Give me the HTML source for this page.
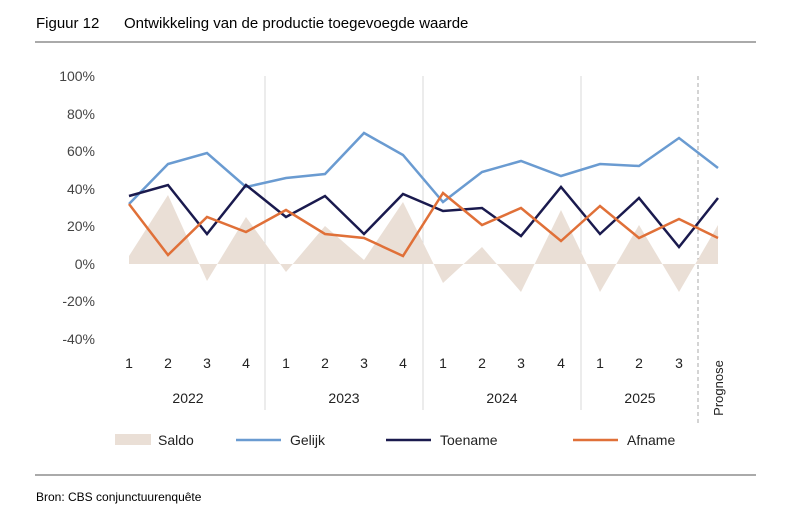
<!DOCTYPE html>
<html><head><meta charset="utf-8"><style>
body{margin:0;background:#fff;width:800px;height:528px;overflow:hidden}
svg{display:block;font-family:"Liberation Sans",sans-serif}
</style></head><body>
<svg width="800" height="528" viewBox="0 0 800 528" xmlns="http://www.w3.org/2000/svg">
<text x="36" y="28" font-size="15" fill="#000">Figuur 12</text>
<text x="124" y="28" font-size="15" fill="#000">Ontwikkeling van de productie toegevoegde waarde</text>
<line x1="35" y1="42" x2="756" y2="42" stroke="#555" stroke-width="1"/>
<g font-size="14" fill="#444" text-anchor="end">
<text x="95" y="81">100%</text><text x="95" y="119">80%</text><text x="95" y="156">60%</text>
<text x="95" y="194">40%</text><text x="95" y="231">20%</text><text x="95" y="269">0%</text>
<text x="95" y="306">-20%</text><text x="95" y="344">-40%</text>
</g>
<g stroke="#d9d9d9" stroke-width="1">
<line x1="265" y1="76" x2="265" y2="410"/><line x1="423" y1="76" x2="423" y2="410"/><line x1="581" y1="76" x2="581" y2="410"/>
</g>
<line x1="698" y1="76" x2="698" y2="425" stroke="#aaa" stroke-dasharray="4,3"/>
<polygon fill="#eadfd6" points="129,264 129,256 168,195 207,281 246,217 286,272 325,226 364,260 403,202 443,283 482,247 521,292 561,210 600,292 639,225 679,292 718,225 718,264"/>
<polyline fill="none" stroke="#6a9bd1" stroke-width="2.5" points="129,204 168,164 207,153 246,187 286,178 325,174 364,133 403,155 443,202 482,172 521,161 561,176 600,164 639,166 679,138 718,168"/>
<polyline fill="none" stroke="#1a1a4e" stroke-width="2.5" points="129,196 168,185 207,234 246,185 286,217 325,196 364,234 403,194 443,211 482,208 521,236 561,187 600,234 639,198 679,247 718,198"/>
<polyline fill="none" stroke="#e07038" stroke-width="2.5" points="129,204 168,255 207,217 246,232 286,210 325,234 364,238 403,256 443,193 482,225 521,208 561,241 600,206 639,238 679,219 718,238"/>
<g font-size="14" fill="#222" text-anchor="middle">
<text x="129" y="368">1</text><text x="168" y="368">2</text><text x="207" y="368">3</text><text x="246" y="368">4</text>
<text x="286" y="368">1</text><text x="325" y="368">2</text><text x="364" y="368">3</text><text x="403" y="368">4</text>
<text x="443" y="368">1</text><text x="482" y="368">2</text><text x="521" y="368">3</text><text x="561" y="368">4</text>
<text x="600" y="368">1</text><text x="639" y="368">2</text><text x="679" y="368">3</text>
<text x="188" y="403">2022</text><text x="344" y="403">2023</text><text x="502" y="403">2024</text><text x="640" y="403">2025</text>
</g>
<text transform="translate(723,388) rotate(-90)" font-size="13" fill="#222" text-anchor="middle">Prognose</text>
<rect x="115" y="434" width="36" height="11" fill="#eadfd6"/>
<text x="158" y="445" font-size="14" fill="#222">Saldo</text>
<line x1="236" y1="440" x2="281" y2="440" stroke="#6a9bd1" stroke-width="2.5"/>
<text x="290" y="445" font-size="14" fill="#222">Gelijk</text>
<line x1="386" y1="440" x2="431" y2="440" stroke="#1a1a4e" stroke-width="2.5"/>
<text x="440" y="445" font-size="14" fill="#222">Toename</text>
<line x1="573" y1="440" x2="618" y2="440" stroke="#e07038" stroke-width="2.5"/>
<text x="627" y="445" font-size="14" fill="#222">Afname</text>
<line x1="35" y1="475" x2="756" y2="475" stroke="#555" stroke-width="1"/>
<text x="36" y="501" font-size="12" fill="#000">Bron: CBS conjunctuurenquête</text>
</svg>
</body></html>
